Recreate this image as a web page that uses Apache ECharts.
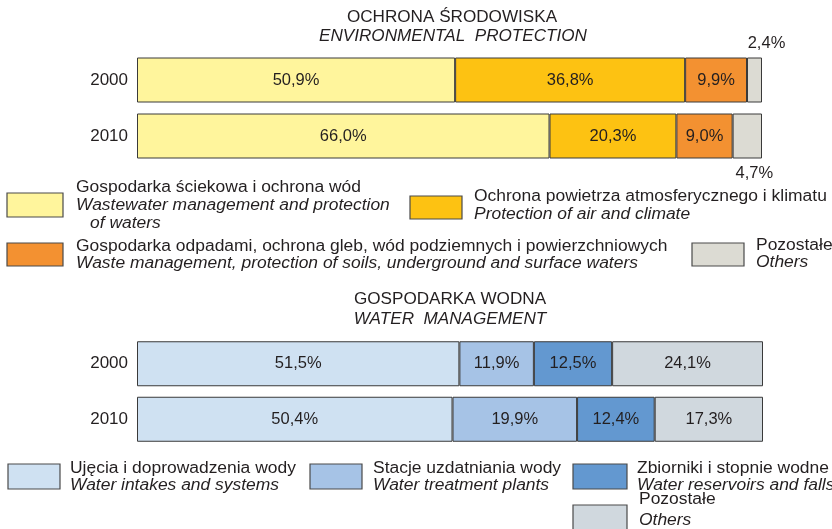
<!DOCTYPE html>
<html>
<head>
<meta charset="utf-8">
<script src="https://cdn.jsdelivr.net/npm/echarts@6/dist/echarts.min.js"></script>
<style>
  html, body { margin: 0; padding: 0; background: #fff; }
  #chart { width: 832px; height: 529px; }
</style>
</head>
<body>
<div id="chart"></div>
<script>
const years = ['2000', '2010']

// Ochrona środowiska / Environmental protection (%)
const envWastewater = [50.9, 66.0]
const envAir = [36.8, 20.3]
const envWaste = [9.9, 9.0]
const envOthers = [2.4, 4.7]

// Gospodarka wodna / Water management (%)
const waterIntakes = [51.5, 50.4]
const waterTreatment = [11.9, 19.9]
const waterReservoirs = [12.5, 12.4]
const waterOthers = [24.1, 17.3]

const envNames = [
  ['Gospodarka ściekowa i ochrona wód', 'Wastewater management and protection', 'of waters'],
  ['Ochrona powietrza atmosferycznego i klimatu', 'Protection of air and climate'],
  ['Gospodarka odpadami, ochrona gleb, wód podziemnych i powierzchniowych', 'Waste management, protection of soils, underground and surface waters'],
  ['Pozostałe', 'Others']
]
const waterNames = [
  ['Ujęcia i doprowadzenia wody', 'Water intakes and systems'],
  ['Stacje uzdatniania wody', 'Water treatment plants'],
  ['Zbiorniki i stopnie wodne', 'Water reservoirs and falls'],
  ['Pozostałe', 'Others']
]

const envColors = ['#fff59c', '#fdc212', '#f39131', '#dcdbd3']
const waterColors = ['#cfe1f2', '#a6c3e6', '#6398d0', '#d0d8de']

const FONT = 'Liberation Sans'
const textColor = '#231f20'
const fmt = v => v.toFixed(1).replace('.', ',') + '%'

function makeSeries(data, colors, idx) {
  return data.map((values, i) => ({
    type: 'bar',
    stack: 'total' + idx,
    xAxisIndex: idx,
    yAxisIndex: idx,
    barWidth: 45,
    itemStyle: { color: colors[i], borderColor: '#3a3a3a', borderWidth: 1 },
    label: {
      show: true,
      position: 'inside',
      color: textColor,
      fontFamily: FONT,
      fontSize: 16.5,
      formatter: p => fmt(p.value)
    },
    data: values
  }))
}

// text a bit wider than Liberation Sans, like the original face
function txt(x, y, t, size, italic, sx, align) {
  return {
    type: 'text',
    x: x,
    y: y,
    scaleX: sx || 1,
    style: {
      text: t,
      fill: textColor,
      font: (italic ? 'italic ' : '') + size + 'px "' + FONT + '"',
      textAlign: align || 'left',
      textVerticalAlign: 'middle'
    }
  }
}

function legendItem(box, color, lines, textX, textY, step) {
  const children = [{
    type: 'rect',
    shape: { x: box[0], y: box[1], width: box[2], height: box[3] },
    style: { fill: color, stroke: '#4a4a4a', lineWidth: 1.2 }
  }]
  lines.forEach((t, k) => {
    const indent = k === 2 ? 14 : 0
    children.push(txt(textX + indent, textY + k * step, t, 16, k > 0, 1.09))
  })
  return { type: 'group', children: children }
}

const graphics = [
  txt(452, 18, 'OCHRONA ŚRODOWISKA', 16, false, 1.07, 'center'),
  txt(453, 37, 'ENVIRONMENTAL  PROTECTION', 16, true, 1.07, 'center'),
  txt(450, 300, 'GOSPODARKA WODNA', 16, false, 1.07, 'center'),
  txt(450, 320, 'WATER  MANAGEMENT', 16, true, 1.07, 'center'),
  legendItem([7, 193, 56, 24], envColors[0], envNames[0], 76, 188, 18),
  legendItem([410, 196, 52, 23], envColors[1], envNames[1], 474, 197, 18),
  legendItem([7, 243, 56, 23], envColors[2], envNames[2], 76, 247, 17),
  legendItem([692, 243, 52, 23], envColors[3], envNames[3], 756, 246, 17),
  legendItem([8, 464, 52, 25], waterColors[0], waterNames[0], 70, 469, 17),
  legendItem([310, 464, 52, 25], waterColors[1], waterNames[1], 373, 469, 17),
  legendItem([573, 464, 54, 25], waterColors[2], waterNames[2], 637, 469, 17),
  legendItem([573, 505, 54, 25], waterColors[3], waterNames[3], 639, 500, 21)
]

// the tiny "others" segments keep their labels outside the bar
const envOthersLabels = [
  { show: true, position: 'top', distance: 6, offset: [12, 0] },
  { show: true, position: 'bottom', distance: 6, offset: [7, 0] }
]

const chart = echarts.init(document.getElementById('chart'), null, { renderer: 'canvas' })

const yAxisBase = {
  type: 'category',
  data: years,
  inverse: true,
  axisLine: { show: false },
  axisTick: { show: false },
  axisLabel: { color: textColor, fontFamily: FONT, fontSize: 17, margin: 9 }
}
const xAxisBase = { type: 'value', min: 0, max: 100, show: false }

const series = [
  ...makeSeries([envWastewater, envAir, envWaste, envOthers], envColors, 0),
  ...makeSeries([waterIntakes, waterTreatment, waterReservoirs, waterOthers], waterColors, 1)
]
series[3].data = envOthers.map((v, j) => ({ value: v, label: envOthersLabels[j] }))

chart.setOption({
  animation: false,
  grid: [
    { left: 137, right: 70, top: 52, height: 112 },
    { left: 137, right: 69, top: 336, height: 111 }
  ],
  xAxis: [Object.assign({ gridIndex: 0 }, xAxisBase), Object.assign({ gridIndex: 1 }, xAxisBase)],
  yAxis: [Object.assign({ gridIndex: 0 }, yAxisBase), Object.assign({ gridIndex: 1 }, yAxisBase)],
  series: series,
  graphic: graphics
})

window.addEventListener('resize', () => {
  chart.resize()
})
</script>
</body>
</html>
